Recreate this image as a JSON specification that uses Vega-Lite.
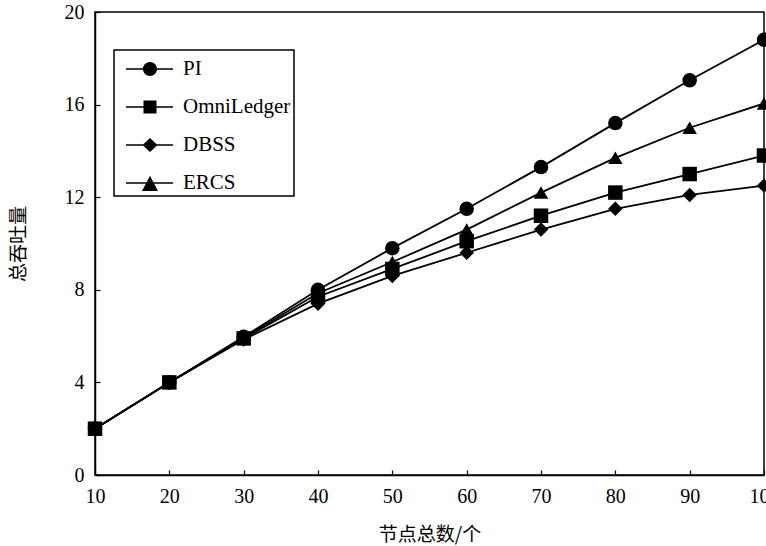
{
  "$schema": "https://vega.github.io/schema/vega-lite/v6.json",
  "width": 669,
  "height": 463,
  "autosize": {"type": "none"},
  "padding": {"left": 95, "top": 12, "right": 2, "bottom": 71},
  "background": "white",
  "config": {
    "view": {"stroke": "black", "strokeWidth": 1.5},
    "font": "Liberation Serif",
    "axis": {
      "grid": false,
      "domainColor": "black",
      "domainWidth": 1.5,
      "tickColor": "black",
      "tickWidth": 1.2,
      "labelFont": "Liberation Serif",
      "labelFontSize": 20,
      "labelColor": "black",
      "titleFont": "Noto Sans CJK SC",
      "titleFontSize": 19,
      "titleFontWeight": "normal",
      "titleColor": "black"
    },
    "legend": {
      "orient": "none",
      "legendX": 19,
      "legendY": 38,
      "strokeColor": "black",
      "strokeWidth": 1.5,
      "fillColor": "white",
      "padding": 3,
      "rowPadding": 12,
      "labelOffset": 34,
      "labelFont": "Liberation Serif",
      "labelFontSize": 21,
      "labelColor": "black",
      "symbolSize": 1024,
      "symbolStrokeWidth": 0,
      "symbolFillColor": "black",
      "symbolOpacity": 1
    }
  },
  "data": {
    "values": [
      {"n": 10, "series": "PI", "v": 2.0},
      {"n": 20, "series": "PI", "v": 4.0},
      {"n": 30, "series": "PI", "v": 5.97},
      {"n": 40, "series": "PI", "v": 8.0},
      {"n": 50, "series": "PI", "v": 9.8},
      {"n": 60, "series": "PI", "v": 11.5},
      {"n": 70, "series": "PI", "v": 13.3},
      {"n": 80, "series": "PI", "v": 15.2},
      {"n": 90, "series": "PI", "v": 17.05},
      {"n": 100, "series": "PI", "v": 18.8},
      {"n": 10, "series": "OmniLedger", "v": 2.0},
      {"n": 20, "series": "OmniLedger", "v": 4.0},
      {"n": 30, "series": "OmniLedger", "v": 5.9},
      {"n": 40, "series": "OmniLedger", "v": 7.7},
      {"n": 50, "series": "OmniLedger", "v": 8.9},
      {"n": 60, "series": "OmniLedger", "v": 10.1},
      {"n": 70, "series": "OmniLedger", "v": 11.2},
      {"n": 80, "series": "OmniLedger", "v": 12.2},
      {"n": 90, "series": "OmniLedger", "v": 13.0},
      {"n": 100, "series": "OmniLedger", "v": 13.8},
      {"n": 10, "series": "DBSS", "v": 2.0},
      {"n": 20, "series": "DBSS", "v": 4.0},
      {"n": 30, "series": "DBSS", "v": 5.85},
      {"n": 40, "series": "DBSS", "v": 7.4},
      {"n": 50, "series": "DBSS", "v": 8.6},
      {"n": 60, "series": "DBSS", "v": 9.6},
      {"n": 70, "series": "DBSS", "v": 10.6},
      {"n": 80, "series": "DBSS", "v": 11.5},
      {"n": 90, "series": "DBSS", "v": 12.1},
      {"n": 100, "series": "DBSS", "v": 12.5},
      {"n": 10, "series": "ERCS", "v": 2.0},
      {"n": 20, "series": "ERCS", "v": 4.0},
      {"n": 30, "series": "ERCS", "v": 5.93},
      {"n": 40, "series": "ERCS", "v": 7.85},
      {"n": 50, "series": "ERCS", "v": 9.2},
      {"n": 60, "series": "ERCS", "v": 10.6},
      {"n": 70, "series": "ERCS", "v": 12.2},
      {"n": 80, "series": "ERCS", "v": 13.7},
      {"n": 90, "series": "ERCS", "v": 15.0},
      {"n": 100, "series": "ERCS", "v": 16.05}
    ]
  },
  "encoding": {
    "x": {
      "field": "n",
      "type": "quantitative",
      "scale": {"domain": [10, 100], "nice": false, "zero": false},
      "axis": {"values": [10, 20, 30, 40, 50, 60, 70, 80, 90, 100], "tickSize": -5, "labelPadding": 16, "title": "节点总数/个", "titlePadding": 19, "labelFlush": false}
    },
    "y": {
      "field": "v",
      "type": "quantitative",
      "scale": {"domain": [0, 20], "nice": false},
      "axis": {"values": [0, 4, 8, 12, 16, 20], "tickSize": -5, "labelPadding": 16, "title": "总吞吐量", "titlePadding": 36, "labelFlush": false}
    }
  },
  "layer": [
    {
      "mark": {"type": "line", "color": "black", "strokeWidth": 1.8},
      "encoding": {"detail": {"field": "series"}}
    },
    {
      "mark": {"type": "point", "filled": true, "color": "black", "opacity": 1, "size": 210},
      "encoding": {
        "shape": {
          "field": "series",
          "type": "nominal",
          "scale": {"domain": ["PI", "OmniLedger", "DBSS", "ERCS"], "range": ["circle", "square", "diamond", "triangle-up"]},
          "legend": null
        }
      }
    },
    {
      "transform": [{"filter": {"field": "series", "equal": "none"}}],
      "mark": {"type": "point", "filled": true, "color": "black", "opacity": 1, "size": 1024},
      "encoding": {
        "shape": {
          "field": "series",
          "type": "nominal",
          "scale": {
            "domain": ["PI", "OmniLedger", "DBSS", "ERCS"],
            "range": [
              "M-0.4375,-0.05H2.5V0.05H-0.4375Z M1.5,0A0.4375,0.4375 0 1,1 0.625,0A0.4375,0.4375 0 1,1 1.5,0Z",
              "M-0.4375,-0.05H2.5V0.05H-0.4375Z M0.656,-0.406H1.469V0.406H0.656Z",
              "M-0.4375,-0.05H2.5V0.05H-0.4375Z M0.594,0L1.0625,-0.44L1.531,0L1.0625,0.44Z",
              "M-0.4375,-0.05H2.5V0.05H-0.4375Z M0.5625,0.5L1.0625,-0.45L1.5625,0.5Z"
            ]
          },
          "legend": {"title": null}
        }
      }
    }
  ],
  "resolve": {"scale": {"shape": "independent"}, "legend": {"shape": "independent"}}
}
